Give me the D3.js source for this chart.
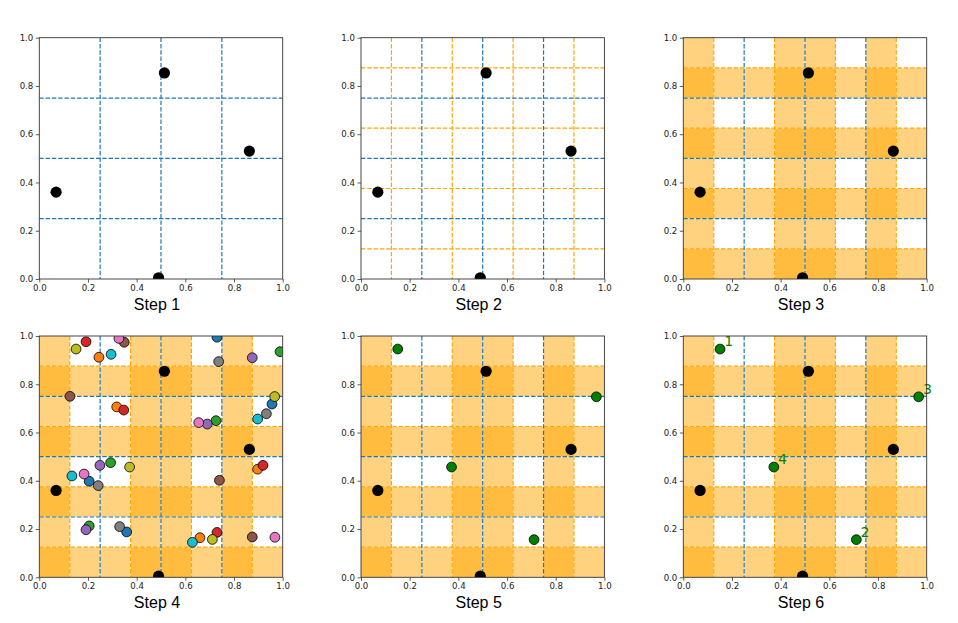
<!DOCTYPE html>
<html><head><meta charset="utf-8">
<script src="https://cdn.jsdelivr.net/npm/d3@7"></script>
<style>body{margin:0;background:#fff}svg{display:block}</style>
</head><body>
<svg id="chart" width="958" height="623"></svg>
<script>
// ---------- data ----------
const steps = ["Step 1","Step 2","Step 3","Step 4","Step 5","Step 6"];
const tickValues = [0,0.2,0.4,0.6,0.8,1.0];
const coarseLines = [0.25,0.5,0.75];
const fineLines = [0.125,0.375,0.625,0.875];
const nFine = 8;
const existingX = [0.069,0.514,0.863,0.490];
const existingY = [0.360,0.854,0.530,0.005];
const candidateColors = ["#1f77b4","#ff7f0e","#2ca02c","#d62728","#9467bd","#8c564b","#e377c2","#7f7f7f","#bcbd22","#17becf"];
const candidateX = [
  [0.205,0.359,0.730,0.956],
  [0.245,0.318,0.897,0.660],
  [0.293,0.205,0.989,0.726],
  [0.192,0.347,0.919,0.730],
  [0.249,0.192,0.875,0.690],
  [0.349,0.126,0.740,0.875],
  [0.327,0.184,0.655,0.968],
  [0.242,0.330,0.737,0.933],
  [0.151,0.371,0.967,0.711],
  [0.295,0.134,0.897,0.629]
];
const candidateY = [
  [0.398,0.188,0.995,0.718],
  [0.912,0.706,0.448,0.164],
  [0.475,0.213,0.935,0.649],
  [0.976,0.693,0.464,0.186],
  [0.464,0.197,0.910,0.635],
  [0.974,0.750,0.402,0.167],
  [0.990,0.428,0.641,0.166],
  [0.380,0.210,0.894,0.678],
  [0.946,0.457,0.749,0.157],
  [0.924,0.420,0.656,0.145]
];
const selectedX = [0.151,0.711,0.967,0.372];
const selectedY = [0.946,0.156,0.748,0.457];
const selectedLabels = ["1","2","3","4"];

// ---------- layout ----------
const svg = d3.select("#chart");
const colLeft = [39.3, 361, 683.3];
const rowTop = [37.7, 336];
const W = 243.4, H = 241.3;
const blue = "#1f77b4", orange = "#FFA500";

// occupied strata from existing points
const occX = Array.from(new Set(existingX.map(v => Math.min(nFine-1, Math.floor(v*nFine)))));
const occY = Array.from(new Set(existingY.map(v => Math.min(nFine-1, Math.floor(v*nFine)))));

steps.forEach((title, i) => {
  const stepNo = i + 1;
  const left = colLeft[i % 3], top = rowTop[Math.floor(i / 3)];
  const x = d3.scaleLinear().domain([0,1]).range([0, W]);
  const y = d3.scaleLinear().domain([0,1]).range([H, 0]);
  const g = svg.append("g").attr("transform", `translate(${left},${top})`);
  const clipId = "clip" + i;
  g.append("clipPath").attr("id", clipId).append("rect").attr("width", W).attr("height", H);
  const plot = g.append("g").attr("clip-path", `url(#${clipId})`);

  if (stepNo >= 3) {
    occX.forEach(c => {
      plot.append("rect").attr("x", x(c/nFine)).attr("y", 0)
        .attr("width", x((c+1)/nFine) - x(c/nFine)).attr("height", H)
        .attr("fill", orange).attr("fill-opacity", 0.5);
    });
    occY.forEach(c => {
      plot.append("rect").attr("x", 0).attr("y", y((c+1)/nFine))
        .attr("width", W).attr("height", y(c/nFine) - y((c+1)/nFine))
        .attr("fill", orange).attr("fill-opacity", 0.5);
    });
    // faint seams between adjacent patches
    d3.range(1, nFine).forEach(k => {
      plot.append("line").attr("x1", x(k/nFine)).attr("x2", x(k/nFine)).attr("y1", 0).attr("y2", H)
        .attr("stroke", "#fff").attr("stroke-opacity", 0.55).attr("stroke-width", 0.9);
      plot.append("line").attr("y1", y(k/nFine)).attr("y2", y(k/nFine)).attr("x1", 0).attr("x2", W)
        .attr("stroke", "#fff").attr("stroke-opacity", 0.55).attr("stroke-width", 0.9);
    });
  }
  const dash = "4.4,1.9";
  if (stepNo >= 2) {
    fineLines.forEach(v => {
      plot.append("line").attr("x1", x(v)).attr("x2", x(v)).attr("y1", 0).attr("y2", H)
        .attr("stroke", orange).attr("stroke-width", 1.2).attr("stroke-dasharray", dash);
      plot.append("line").attr("y1", y(v)).attr("y2", y(v)).attr("x1", 0).attr("x2", W)
        .attr("stroke", orange).attr("stroke-width", 1.2).attr("stroke-dasharray", dash);
    });
  }
  coarseLines.forEach(v => {
    plot.append("line").attr("x1", x(v)).attr("x2", x(v)).attr("y1", 0).attr("y2", H)
      .attr("stroke", blue).attr("stroke-width", 1.2).attr("stroke-dasharray", dash);
    plot.append("line").attr("y1", y(v)).attr("y2", y(v)).attr("x1", 0).attr("x2", W)
      .attr("stroke", blue).attr("stroke-width", 1.2).attr("stroke-dasharray", dash);
  });

  // existing points
  existingX.forEach((vx, j) => {
    plot.append("circle").attr("cx", x(vx)).attr("cy", y(existingY[j])).attr("r", 5.6).attr("fill", "#000");
  });
  if (stepNo === 4) {
    candidateColors.forEach((col, c) => {
      candidateX[c].forEach((vx, j) => {
        plot.append("circle").attr("cx", x(vx)).attr("cy", y(candidateY[c][j])).attr("r", 4.9)
          .attr("fill", col).attr("stroke", "#000").attr("stroke-width", 0.8);
      });
    });
  }
  if (stepNo >= 5) {
    selectedX.forEach((vx, j) => {
      plot.append("circle").attr("cx", x(vx)).attr("cy", y(selectedY[j])).attr("r", 4.9)
        .attr("fill", "#008000").attr("stroke", "#000").attr("stroke-width", 0.8);
    });
  }
  if (stepNo === 6) {
    selectedX.forEach((vx, j) => {
      g.append("text").attr("x", x(vx) + 4.5).attr("y", y(selectedY[j]) - 3)
        .attr("fill", "#008000").attr("font-family", "DejaVu Sans, sans-serif").attr("font-size", 13.5)
        .text(selectedLabels[j]);
    });
  }

  // axes
  const fmt = d3.format(".1f");
  const xa = g.append("g").attr("transform", `translate(0,${H})`)
    .call(d3.axisBottom(x).tickValues(tickValues).tickFormat(fmt).tickSize(3.5).tickPadding(2.5).tickSizeOuter(0));
  const ya = g.append("g")
    .call(d3.axisLeft(y).tickValues(tickValues).tickFormat(fmt).tickSize(3.5).tickPadding(2.5).tickSizeOuter(0));
  [xa, ya].forEach(a => {
    a.select(".domain").remove();
    a.selectAll(".tick line").attr("stroke", "#333").attr("stroke-width", 0.8);
    a.selectAll(".tick text").attr("fill", "#222").attr("font-family", "DejaVu Sans, sans-serif").attr("font-size", 8.6);
  });
  g.append("rect").attr("width", W).attr("height", H).attr("fill", "none")
    .attr("stroke", "#333").attr("stroke-width", 0.9);

  g.append("text").attr("x", W/2 - 4).attr("y", H + 31).attr("text-anchor", "middle")
    .attr("font-family", "Liberation Sans, Arial, sans-serif").attr("font-size", 16).attr("fill", "#000")
    .text(title);
});
</script>
</body></html>
